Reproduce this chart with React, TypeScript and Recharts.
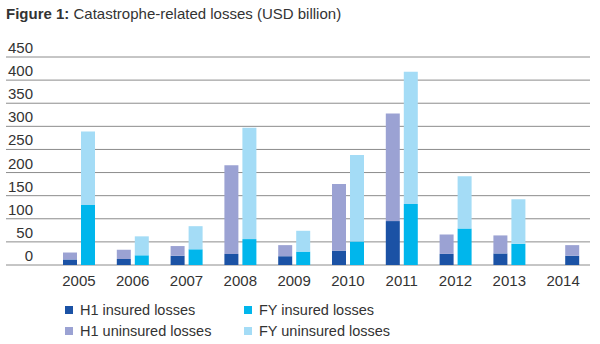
import { Bar, BarChart, CartesianGrid, Cell, XAxis, YAxis } from 'recharts'

const years = ['2005', '2006', '2007', '2008', '2009', '2010', '2011', '2012', '2013', '2014']
const h1Insured = [12, 13, 20, 24, 19, 31, 95, 24, 25, 20]
const h1Uninsured = [15, 20, 21, 192, 24, 144, 233, 42, 39, 23]
const fyInsured = [130, 21, 34, 56, 29, 51, 132, 79, 46, null]
const fyUninsured = [159, 41, 50, 241, 45, 187, 286, 113, 96, null]
const yTicks = [0, 50, 100, 150, 200, 250, 300, 350, 400, 450]

const C_H1_INS = '#1b52a5'
const C_H1_UNINS = '#9ba2d3'
const C_FY_INS = '#00b6ec'
const C_FY_UNINS = '#a4dcf6'

const FONT = '"Liberation Sans", Arial, sans-serif'
const TEXT = '#333'

// years with no full-year figure yet: the H1 stack sits in the right-hand slot
const rows = years.map((year, i) => {
  const h1Only = fyInsured[i] == null
  return {
    year,
    h1Only,
    h1Ins: h1Only ? null : h1Insured[i],
    h1Unins: h1Only ? null : h1Uninsured[i],
    fyIns: h1Only ? h1Insured[i] : fyInsured[i],
    fyUnins: h1Only ? h1Uninsured[i] : fyUninsured[i],
  }
})

const legendItems = [
  { label: 'H1 insured losses', color: C_H1_INS },
  { label: 'FY insured losses', color: C_FY_INS },
  { label: 'H1 uninsured losses', color: C_H1_UNINS },
  { label: 'FY uninsured losses', color: C_FY_UNINS },
]

// labels sit just above their gridline, right-aligned near the grid's start
const renderYTick = (props: any) => {
  const { y, payload } = props
  return (
    <text
      key={payload.value}
      x={33}
      y={y - 4}
      fontSize={15}
      fill={TEXT}
      fontFamily={FONT}
      textAnchor="end"
    >
      {payload.value}
    </text>
  )
}

export default function App() {
  return (
    <div
      style={{
        position: 'absolute',
        top: 0,
        left: 0,
        width: 600,
        height: 344,
        background: '#fff',
        fontFamily: FONT,
        color: TEXT,
      }}
    >
      <div style={{ position: 'absolute', left: 6, top: 5, fontSize: 15, whiteSpace: 'nowrap' }}>
        <b>Figure 1:</b> Catastrophe-related losses (USD billion)
      </div>
      <div style={{ position: 'absolute', left: 0, top: 0 }}>
        <BarChart
          width={600}
          height={292}
          data={rows}
          margin={{ top: 57, right: 10, bottom: 2, left: 0 }}
          barSize={14}
          barGap={4}
        >
          <CartesianGrid vertical={false} stroke="#8c8c8c" strokeWidth={1} />
          <YAxis
            domain={[0, 450]}
            ticks={yTicks}
            width={6}
            axisLine={false}
            tickLine={false}
            tick={renderYTick}
            interval={0}
          />
          <XAxis
            dataKey="year"
            axisLine={false}
            tickLine={false}
            height={25}
            interval={0}
            padding={{ left: 46, right: 0 }}
            tick={{ fontSize: 15, fill: TEXT, fontFamily: FONT }}
            dy={2}
          />
          <Bar dataKey="h1Ins" stackId="h1" fill={C_H1_INS} isAnimationActive={false} />
          <Bar dataKey="h1Unins" stackId="h1" fill={C_H1_UNINS} isAnimationActive={false} />
          <Bar dataKey="fyIns" stackId="fy" fill={C_FY_INS} isAnimationActive={false}>
            {rows.map((r) => (
              <Cell key={r.year} fill={r.h1Only ? C_H1_INS : C_FY_INS} />
            ))}
          </Bar>
          <Bar dataKey="fyUnins" stackId="fy" fill={C_FY_UNINS} isAnimationActive={false}>
            {rows.map((r) => (
              <Cell key={r.year} fill={r.h1Only ? C_H1_UNINS : C_FY_UNINS} />
            ))}
          </Bar>
        </BarChart>
      </div>
      <div
        style={{
          position: 'absolute',
          left: 65,
          top: 301,
          display: 'grid',
          gridTemplateColumns: '179px auto',
          rowGap: 3,
          fontSize: 14.5,
        }}
      >
        {legendItems.map((item) => (
          <div key={item.label} style={{ display: 'flex', alignItems: 'center', height: 18 }}>
            <span
              style={{ width: 8, height: 8, background: item.color, marginRight: 7, display: 'inline-block' }}
            />
            <span>{item.label}</span>
          </div>
        ))}
      </div>
    </div>
  )
}
